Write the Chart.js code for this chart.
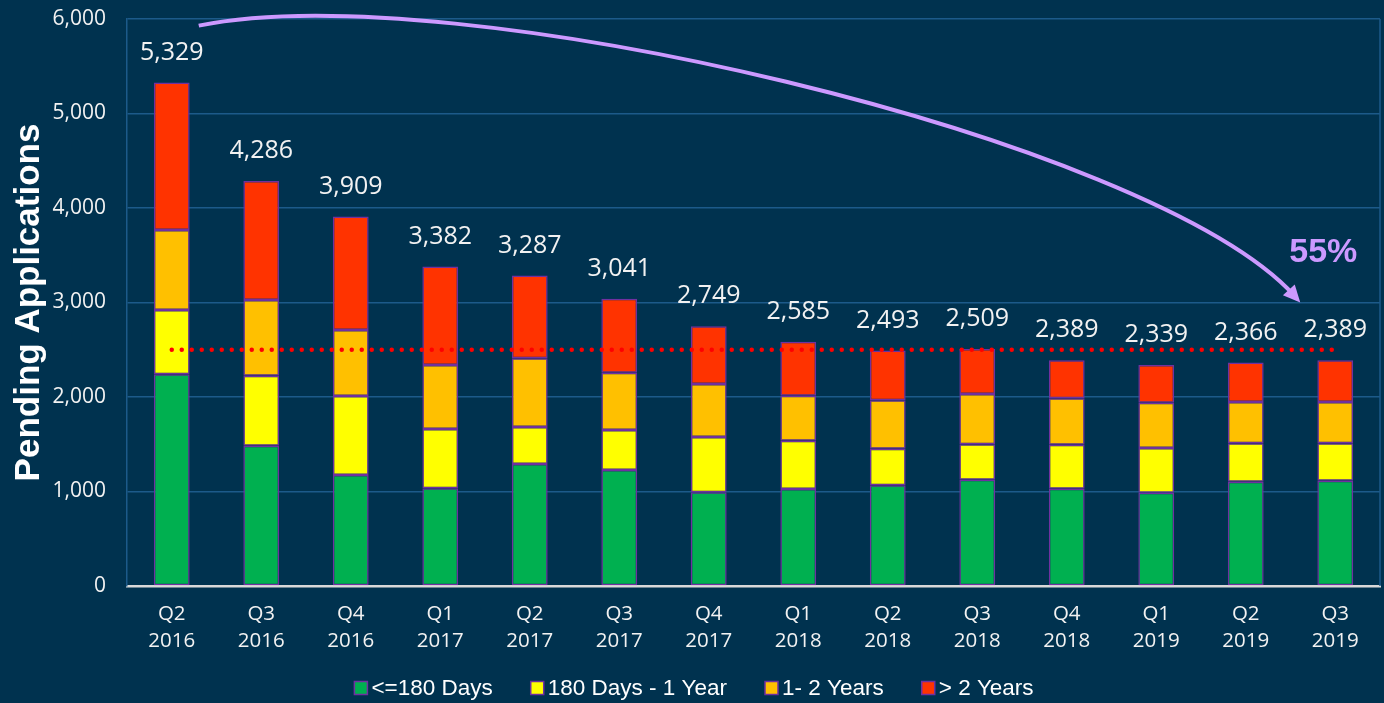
<!DOCTYPE html>
<html>
<head>
<meta charset="utf-8">
<script src="https://cdn.jsdelivr.net/npm/chart.js@4/dist/chart.umd.min.js"></script>
<style>
  html, body { margin: 0; padding: 0; background: #00324f; }
  #wrap { width: 1384px; height: 703px; }
</style>
</head>
<body>
<div id="wrap"><canvas id="pending_chart"></canvas></div>
<script>
// quarters / years on the x axis
const quarters = ['Q2', 'Q3', 'Q4', 'Q1', 'Q2', 'Q3', 'Q4', 'Q1', 'Q2', 'Q3', 'Q4', 'Q1', 'Q2', 'Q3'];
const years = ['2016', '2016', '2016', '2017', '2017', '2017', '2017', '2018', '2018', '2018', '2018', '2019', '2019', '2019'];

// stacked segments
const days180 = [2240, 1485, 1175, 1034, 1291, 1228, 992, 1026, 1066, 1125, 1030, 987, 1104, 1114];
const days180to1yr = [681, 740, 836, 627, 392, 423, 585, 512, 387, 374, 465, 473, 406, 396];
const years1to2 = [846, 801, 698, 678, 726, 606, 561, 476, 512, 533, 491, 480, 437, 437];
const over2years = [1562, 1260, 1200, 1043, 878, 784, 611, 571, 528, 477, 403, 399, 419, 442];

// totals printed above the bars
const totals = [5329, 4286, 3909, 3382, 3287, 3041, 2749, 2585, 2493, 2509, 2389, 2339, 2366, 2389];

// dotted reference line
const refLine = [2500, 2500, 2500, 2500, 2500, 2500, 2500, 2500, 2500, 2500, 2500, 2500, 2500, 2500];

const yTicks = [0, 1000, 2000, 3000, 4000, 5000, 6000];

const labels = quarters.map((q, i) => [q, years[i]]);
const fmt = v => v.toLocaleString('en-US');

const BG = '#00324f';
const GRID = '#1c5a8a';
const BORDER = '#7030a0';
const ARROW = '#cc99ff';
const NUM_FONT = '"Open Sans", Roboto, sans-serif';
const TXT_FONT = '"Liberation Sans", Arial, sans-serif';

// background, totals, plot frame, arrow and legend
const overlay = {
    id: 'overlay',
    beforeDraw(chart) {
        const c = chart.ctx;
        c.save();
        c.fillStyle = BG;
        c.fillRect(0, 0, chart.width, chart.height);
        c.restore();
    },
    afterDatasetsDraw(chart) {
        const c = chart.ctx;
        const x = chart.scales.x, y = chart.scales.y;
        const a = chart.chartArea;
        c.save();
        // right frame line
        c.strokeStyle = GRID;
        c.lineWidth = 1.5;
        c.beginPath();
        c.moveTo(a.right, a.top);
        c.lineTo(a.right, a.bottom);
        c.stroke();

        // totals
        c.fillStyle = '#f2f2f2';
        c.font = '25px ' + NUM_FONT;
        c.textAlign = 'center';
        c.textBaseline = 'middle';
        totals.forEach((t, i) => {
            c.fillText(fmt(t), x.getPixelForValue(i), y.getPixelForValue(t) - 30);
        });

        // curved arrow
        const sx = x.getPixelForValue(0) + 27, sy = y.getPixelForValue(5930);
        const ex = x.getPixelForValue(13) - 35, ey = y.getPixelForValue(3000);
        const p1 = [sx + 250, sy - 52], p2 = [ex - 150, ey - 165];
        c.strokeStyle = ARROW;
        c.lineWidth = 4;
        c.beginPath();
        c.moveTo(sx, sy);
        c.bezierCurveTo(p1[0], p1[1], p2[0], p2[1], ex - 6, ey - 7);
        c.stroke();
        const ang = Math.atan2(ey - p2[1], ex - p2[0]);
        c.fillStyle = ARROW;
        c.beginPath();
        c.moveTo(ex, ey);
        c.lineTo(ex - 17 * Math.cos(ang) + 8 * Math.sin(ang), ey - 17 * Math.sin(ang) - 8 * Math.cos(ang));
        c.lineTo(ex - 17 * Math.cos(ang) - 8 * Math.sin(ang), ey - 17 * Math.sin(ang) + 8 * Math.cos(ang));
        c.closePath();
        c.fill();

        // 55%
        c.font = 'bold 34px ' + TXT_FONT;
        c.fillText('55%', ex + 23, y.getPixelForValue(3530));

        // legend (bar datasets only)
        const items = chart.data.datasets.filter(d => d.type === 'bar');
        c.font = '22.5px ' + TXT_FONT;
        const box = 13, gap = 4, space = 38;
        const widths = items.map(d => box + gap + c.measureText(d.label).width);
        const total = widths.reduce((s, w) => s + w, 0) + space * (items.length - 1);
        let lx = chart.width / 2 - total / 2 + 2;
        const ly = 688;
        c.textAlign = 'left';
        items.forEach((d, i) => {
            c.fillStyle = d.backgroundColor;
            c.fillRect(lx, ly - box / 2, box, box);
            c.strokeStyle = BORDER;
            c.lineWidth = 1.5;
            c.strokeRect(lx, ly - box / 2, box, box);
            c.fillStyle = '#ffffff';
            c.fillText(d.label, lx + box + gap, ly + 1);
            lx += widths[i] + space;
        });
        c.restore();
    }
};

const barSet = (label, data, color) => ({
    type: 'bar',
    label: label,
    data: data,
    backgroundColor: color,
    borderColor: BORDER,
    borderWidth: 1.5,
    borderSkipped: false,
    barPercentage: 0.4,
    categoryPercentage: 1.0,
    stack: 'apps',
    order: 1
});

const ctx = document.getElementById('pending_chart').getContext('2d');

new Chart(ctx, {
    data: {
        labels: labels,
        datasets: [
            barSet('<=180 Days', days180, '#00b050'),
            barSet('180 Days - 1 Year', days180to1yr, '#ffff00'),
            barSet('1- 2 Years', years1to2, '#ffc000'),
            barSet('> 2 Years', over2years, '#ff3300'),
            {
                type: 'line',
                label: 'ref',
                data: refLine,
                borderColor: '#ff0000',
                borderWidth: 4.5,
                borderDash: [0, 10],
                borderCapStyle: 'round',
                pointRadius: 0,
                fill: false,
                stack: 'ref',
                order: 0
            }
        ]
    },
    options: {
        responsive: true,
        maintainAspectRatio: false,
        animation: false,
        layout: { padding: { left: 0, right: 4, top: 19, bottom: 33 } },
        plugins: {
            tooltip: { enabled: false },
            legend: { display: false }
        },
        scales: {
            x: {
                stacked: true,
                grid: { display: false, drawTicks: false },
                border: { color: '#d9d9d9', width: 2.5 },
                ticks: {
                    color: '#f2f2f2',
                    font: { family: NUM_FONT, size: 20.5, lineHeight: 1.32 },
                    padding: 15,
                    maxRotation: 0,
                    autoSkip: false
                },
                afterFit: s => { s.height = 84; }
            },
            y: {
                stacked: true,
                min: 0,
                max: 6000,
                afterBuildTicks: s => { s.ticks = yTicks.map(v => ({ value: v })); },
                grid: { color: GRID, lineWidth: 1.5, drawTicks: false },
                border: { color: GRID, width: 1.5 },
                ticks: {
                    color: '#f2f2f2',
                    font: { family: NUM_FONT, size: 21 },
                    padding: 21,
                    callback: v => fmt(v)
                },
                title: {
                    display: true,
                    text: 'Pending Applications',
                    color: '#ffffff',
                    font: { family: TXT_FONT, size: 35, weight: 'bold', lineHeight: 1.2 },
                    padding: { top: 8, bottom: 0 }
                },
                afterFit: s => {
                    s.width = 127;
                    s.paddingTop = 0;
                    s.paddingBottom = 0;
                }
            }
        }
    },
    plugins: [overlay]
});
</script>
</body>
</html>
